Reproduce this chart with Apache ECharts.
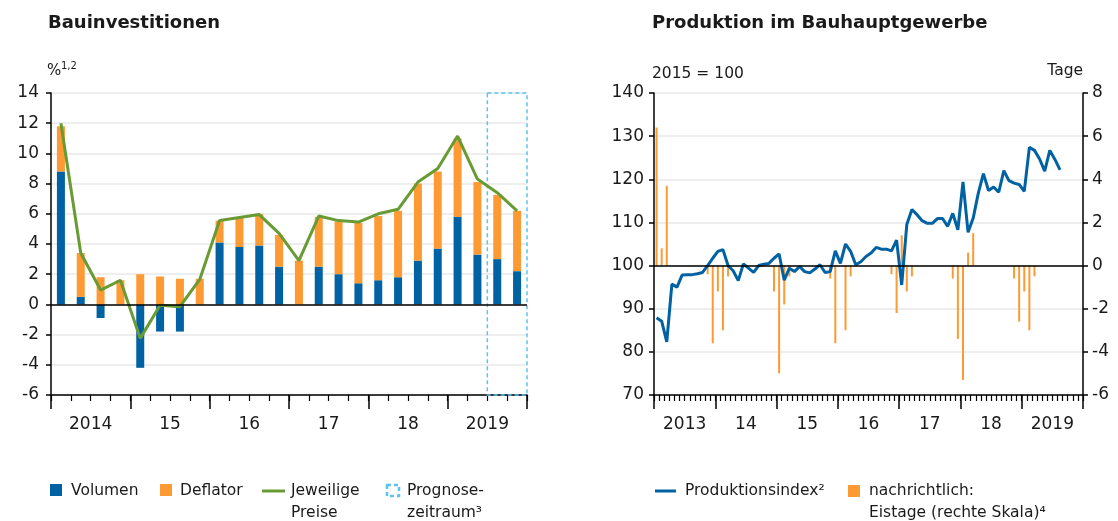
<!DOCTYPE html>
<html>
<head>
<meta charset="utf-8">
<script src="https://cdn.jsdelivr.net/npm/echarts@6/dist/echarts.min.js"></script>
<style>
  html, body { margin: 0; padding: 0; background: #fff; }
  #chart { width: 1118px; height: 521px; }
</style>
</head>
<body>
<div id="chart"></div>
<script>
// --- Bauinvestitionen (Quartale 2014 - 2019) ---
const quarterYears = [2014, 2015, 2016, 2017, 2018, 2019];
const quarters = [];
quarterYears.forEach(function (y) {
  ['Q1', 'Q2', 'Q3', 'Q4'].forEach(function (q) { quarters.push(y + ' ' + q); });
});
const yearLabels = ['2014', '15', '16', '17', '18', '2019'];
const volumen = [8.8, 0.5, -0.9, 0.0, -4.2, -1.8, -1.8, 0.0, 4.1, 3.8, 3.9, 2.5,
                 0.0, 2.5, 2.0, 1.4, 1.6, 1.8, 2.9, 3.7, 5.8, 3.3, 3.0, 2.2];
const deflator = [3.0, 2.9, 1.8, 1.6, 2.0, 1.85, 1.7, 1.7, 1.45, 1.95, 2.1, 2.1,
                  2.9, 3.3, 3.5, 4.0, 4.25, 4.4, 5.1, 5.1, 5.2, 4.8, 4.25, 4.0];
const jeweiligePreise = [12.0, 3.4, 0.95, 1.6, -2.25, -0.05, -0.15, 1.65, 5.55, 5.75, 5.95, 4.7,
                         2.9, 5.85, 5.55, 5.45, 6.0, 6.3, 8.1, 9.0, 11.15, 8.3, 7.4, 6.2];
const prognoseVon = 22; // erstes Prognosequartal (Index)

// --- Produktion im Bauhauptgewerbe (Monate 2013 - 2019) ---
const months = [];
for (let y = 2013; y <= 2019; y++) {
  for (let m = 1; m <= 12; m++) months.push(y + '-' + (m < 10 ? '0' + m : m));
}
const monthYearLabels = ['2013', '14', '15', '16', '17', '18', '2019'];
const produktionsindex = [
  87.9, 87.1, 82.3, 95.7, 95.0, 97.8, 97.9, 97.9, 98.1, 98.4, 100.0, 101.7,
  103.3, 103.7, 100.0, 98.8, 96.5, 100.4, 99.4, 98.4, 100.0, 100.3, 100.5, 101.7,
  102.7, 96.6, 99.4, 98.6, 99.8, 98.6, 98.3, 99.2, 100.2, 98.4, 98.6, 103.4,
  100.5, 105.0, 103.3, 100.2, 100.9, 102.1, 102.9, 104.2, 103.8, 103.8, 103.4, 105.9,
  95.5, 109.5, 113.0, 111.8, 110.4, 109.8, 109.8, 110.9, 110.9, 109.1, 112.1, 108.3,
  119.4, 107.7, 111.0, 116.8, 121.3, 117.4, 118.2, 117.0, 122.0, 119.7, 119.1, 118.8,
  117.2, 127.4, 126.7, 124.7, 121.9, 126.7, 124.6, 122.2
];
// Eistage, Abweichung in Tagen (rechte Skala)
const eistage = [
  6.4, 0.8, 3.7, null, null, null, null, null, null, null, -0.4, -3.6,
  -1.2, -3.0, -0.5, null, null, null, null, null, null, null, null, -1.2,
  -5.0, -1.8, -0.5, null, null, null, null, null, null, null, -0.6, -3.6,
  null, -3.0, -0.5, null, null, null, null, null, null, null, -0.4, -2.2,
  1.4, -1.2, -0.5, null, null, null, null, null, null, null, -0.6, -3.4,
  -5.3, 0.6, 1.5, null, null, null, null, null, null, null, -0.6, -2.6,
  -1.2, -3.0, -0.5, null, null, null, null, null, null, null, null, null
];

const FONT = 'DejaVu Sans';
const TXT = '#1a1a1a';
const BLUE = '#0062a3';
const ORANGE = '#fd9a33';
const GREEN = '#699b35';
const CYAN = '#5cc3ef';
const GRIDLINE = '#e8e8e8';

const chart = echarts.init(document.getElementById('chart'));

function minorX(gridIndex, data) {
  return {
    gridIndex: gridIndex, type: 'category', data: data, position: 'bottom',
    axisLine: { show: true, onZero: false, lineStyle: { color: '#000', width: 1.5 } },
    axisTick: { show: true, interval: 0, length: 6, lineStyle: { color: '#000', width: 1.2 } },
    axisLabel: { show: false, interval: 0 },
    splitLine: { show: false }
  };
}
function majorX(gridIndex, data) {
  return {
    gridIndex: gridIndex, type: 'category', data: data, position: 'bottom',
    axisLine: { show: false, onZero: false },
    axisTick: { show: true, interval: 0, length: 14, lineStyle: { color: '#000', width: 1.5 } },
    axisLabel: { interval: 0, fontSize: 17, color: TXT, fontFamily: FONT, margin: 21 },
    splitLine: { show: false }
  };
}
function valueY(gridIndex, min, max, step, pos, split, margin) {
  return {
    gridIndex: gridIndex, type: 'value', min: min, max: max, interval: step, position: pos,
    axisLine: { show: true, onZero: false, lineStyle: { color: '#000', width: 1.5 } },
    axisTick: { show: true, length: 5, lineStyle: { color: '#000', width: 1.5 } },
    axisLabel: { fontSize: 17, color: TXT, fontFamily: FONT, margin: margin },
    splitLine: { show: split, lineStyle: { color: GRIDLINE, width: 1.5 } }
  };
}
function label(x, y, text, extra) {
  return Object.assign({
    type: 'text', x: x, y: y, silent: true,
    style: { text: text, fontFamily: FONT, fontSize: 15.5, fill: TXT, lineHeight: 22,
             verticalAlign: 'top', textVerticalAlign: 'top' }
  }, extra || {});
}

const option = {
  animation: false,
  textStyle: { fontFamily: FONT, color: TXT },
  title: [
    { text: 'Bauinvestitionen', left: 43, top: 9,
      textStyle: { fontFamily: FONT, fontSize: 18, fontWeight: 'bold', color: TXT } },
    { text: 'Produktion im Bauhauptgewerbe', left: 647, top: 9,
      textStyle: { fontFamily: FONT, fontSize: 18, fontWeight: 'bold', color: TXT } }
  ],
  grid: [
    { left: 51, top: 93, width: 476, height: 302 },
    { left: 654, top: 93, width: 429, height: 302 }
  ],
  xAxis: [
    minorX(0, quarters),
    majorX(0, yearLabels),
    { gridIndex: 0, type: 'value', min: 0, max: quarters.length, show: false, position: 'top',
      axisLine: { onZero: false } },
    minorX(1, months),
    majorX(1, monthYearLabels)
  ],
  yAxis: [
    valueY(0, -6, 14, 2, 'left', true, 12),
    valueY(1, 70, 140, 10, 'left', true, 10),
    valueY(1, -6, 8, 2, 'right', false, 9)
  ],
  series: [
    { name: 'Volumen', type: 'bar', xAxisIndex: 0, yAxisIndex: 0, stack: 'bau',
      data: volumen, barWidth: 8, itemStyle: { color: BLUE },
      markLine: { silent: true, symbol: 'none', label: { show: false },
                  lineStyle: { color: '#000', width: 1.5, type: 'solid' }, data: [{ yAxis: 0 }] } },
    { name: 'Deflator', type: 'bar', xAxisIndex: 0, yAxisIndex: 0, stack: 'bau',
      data: deflator, barWidth: 8, itemStyle: { color: ORANGE } },
    { name: 'Jeweilige Preise', type: 'line', xAxisIndex: 0, yAxisIndex: 0,
      data: jeweiligePreise, symbol: 'none', lineStyle: { color: GREEN, width: 3 }, z: 4 },
    { name: 'Prognosezeitraum', type: 'line', xAxisIndex: 2, yAxisIndex: 0, data: [],
      markArea: { silent: true,
        itemStyle: { color: 'rgba(0,0,0,0)', borderColor: CYAN, borderWidth: 1.5, borderType: [4, 3] },
        data: [[{ xAxis: prognoseVon, yAxis: 14 }, { xAxis: quarters.length, yAxis: -6 }]] } },

    { name: 'Eistage', type: 'bar', xAxisIndex: 3, yAxisIndex: 2,
      data: eistage, barWidth: 2, itemStyle: { color: ORANGE },
      markLine: { silent: true, symbol: 'none', label: { show: false },
                  lineStyle: { color: '#000', width: 1.5, type: 'solid' }, data: [{ yAxis: 0 }] } },
    { name: 'Produktionsindex', type: 'line', xAxisIndex: 3, yAxisIndex: 1,
      data: produktionsindex, symbol: 'none', lineStyle: { color: BLUE, width: 3 }, z: 4 }
  ],
  graphic: [
    label(47, 64, '%', { style: { text: '%', fontFamily: FONT, fontSize: 15, fill: TXT, verticalAlign: 'top' } }),
    label(61, 61, '1,2', { style: { text: '1,2', fontFamily: FONT, fontSize: 10, fill: TXT, verticalAlign: 'top' } }),
    label(652, 63, '2015 = 100'),
    { type: 'text', x: 1083, y: 63, silent: true,
      style: { text: 'Tage', fontFamily: FONT, fontSize: 15.5, fill: TXT, align: 'right', textAlign: 'right',
               verticalAlign: 'top' } },

    // Legende links
    { type: 'rect', shape: { x: 50, y: 484, width: 12, height: 12 }, style: { fill: BLUE } },
    label(71, 480, 'Volumen'),
    { type: 'rect', shape: { x: 160, y: 484, width: 12, height: 12 }, style: { fill: ORANGE } },
    label(180, 480, 'Deflator'),
    { type: 'line', shape: { x1: 262, y1: 491, x2: 285, y2: 491 }, style: { stroke: GREEN, lineWidth: 3 } },
    label(291, 480, 'Jeweilige\nPreise'),
    { type: 'rect', shape: { x: 387, y: 485, width: 12, height: 11 },
      style: { fill: 'none', stroke: CYAN, lineWidth: 2.5, lineDash: [4, 3] } },
    label(407, 480, 'Prognose-\nzeitraum\u00b3'),

    // Legende rechts
    { type: 'line', shape: { x1: 655, y1: 491, x2: 676, y2: 491 }, style: { stroke: BLUE, lineWidth: 3 } },
    label(685, 480, 'Produktionsindex\u00b2'),
    { type: 'rect', shape: { x: 848, y: 485, width: 12, height: 12 }, style: { fill: ORANGE } },
    label(869, 480, 'nachrichtlich:\nEistage (rechte Skala)\u2074')
  ]
};

chart.setOption(option);
</script>
</body>
</html>
